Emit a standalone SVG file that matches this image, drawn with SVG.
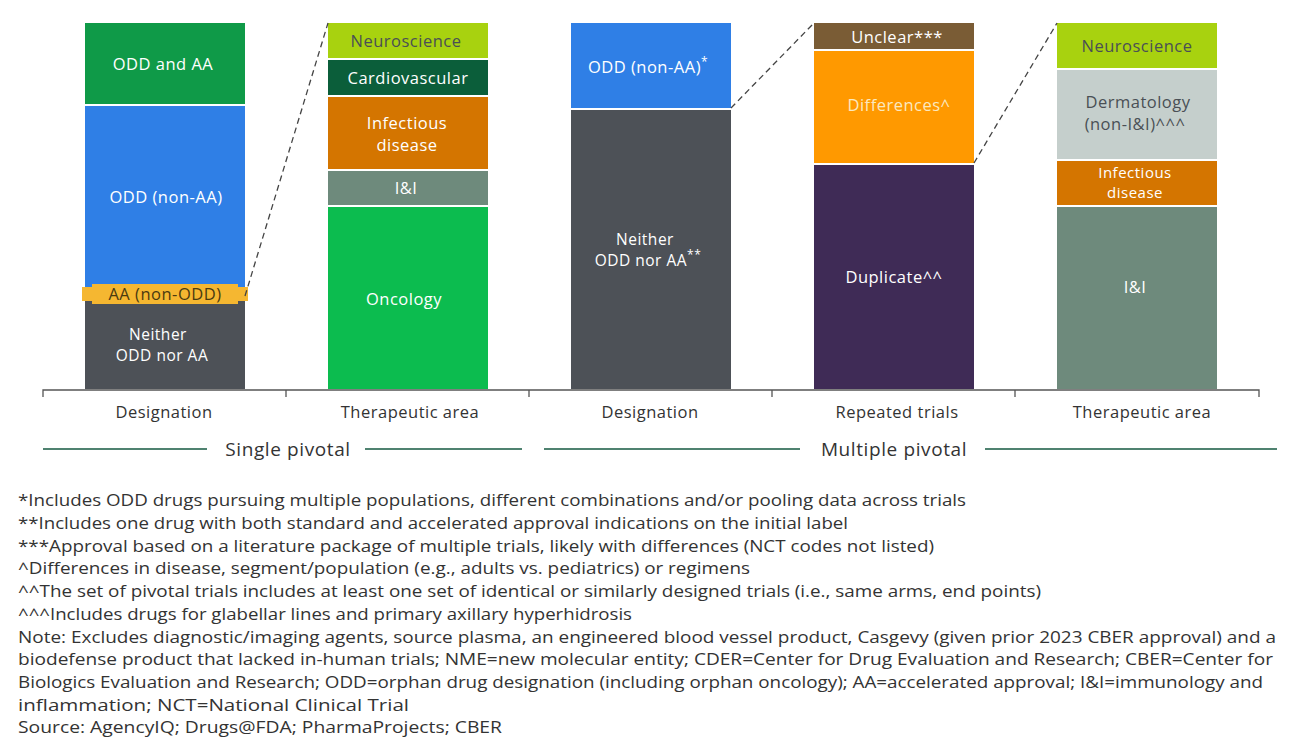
<svg xmlns="http://www.w3.org/2000/svg" width="1300" height="749" viewBox="0 0 1300 749">
<style>
text{font-family:"Open Sans","Noto Sans",sans-serif}
.l{font-size:16.5px;fill:#fff;text-anchor:middle;letter-spacing:0.5px}
.s{font-size:15.5px}
.d{fill:#4a4f55}
.ax{font-size:16.5px;fill:#333;text-anchor:middle;letter-spacing:0.5px}
.gp{font-size:19px;fill:#333;text-anchor:middle;letter-spacing:0.6px}
.fn{font-size:16px;fill:#333}
.dash{stroke:#444;stroke-width:1.3;stroke-dasharray:6 4;fill:none}
</style>
<rect width="1300" height="749" fill="#fff"/>
<g id="bar1">
<rect x="85" y="23" width="160" height="81" fill="#0f9a48"/>
<rect x="85" y="106" width="160" height="181" fill="#2f7fe6"/>
<rect x="85" y="300" width="160" height="89" fill="#4d5157"/>
<rect x="82" y="287" width="166" height="14" fill="#f5b731"/>
<rect x="92" y="284" width="146" height="20" fill="#f5b731"/>
<text class="l" x="163" y="70">ODD and AA</text>
<text class="l" x="166" y="203">ODD (non-AA)</text>
<text class="l" x="165" y="300" style="fill:#4a3b10">AA (non-ODD)</text>
<text class="l s" x="158" y="340">Neither</text>
<text class="l s" x="162" y="361">ODD nor AA</text>
</g>
<g id="bar2">
<rect x="328" y="23" width="160" height="35" fill="#a8d20f"/>
<rect x="328" y="60" width="160" height="35" fill="#0b5e3a"/>
<rect x="328" y="97" width="160" height="72" fill="#d47500"/>
<rect x="328" y="171" width="160" height="34" fill="#6e8a7c"/>
<rect x="328" y="207" width="160" height="182" fill="#0cbc4f"/>
<text class="l d" x="406" y="47">Neuroscience</text>
<text class="l" x="408" y="84">Cardiovascular</text>
<text class="l" x="407" y="129">Infectious</text>
<text class="l" x="407" y="151">disease</text>
<text class="l" x="406" y="194">I&amp;I</text>
<text class="l" x="404" y="305">Oncology</text>
</g>
<g id="bar3">
<rect x="571" y="23" width="160" height="85" fill="#2f7fe6"/>
<rect x="571" y="110" width="160" height="279" fill="#4d5157"/>
<text class="l" x="648" y="73">ODD (non-AA)<tspan font-size="12" dy="-7">*</tspan></text>
<text class="l s" x="645" y="245">Neither</text>
<text class="l s" x="648" y="266">ODD nor AA<tspan font-size="12" dy="-7">**</tspan></text>
</g>
<g id="bar4">
<rect x="814" y="23" width="160" height="26" fill="#7a5c35"/>
<rect x="814" y="51" width="160" height="112" fill="#ff9900"/>
<rect x="814" y="165" width="160" height="224" fill="#3f2b56"/>
<text class="l" x="897" y="43">Unclear***</text>
<text class="l" x="899" y="111" style="fill:#fbe9c0">Differences^</text>
<text class="l" x="894" y="283">Duplicate^^</text>
</g>
<g id="bar5">
<rect x="1057" y="23" width="160" height="45" fill="#a8d20f"/>
<rect x="1057" y="70" width="160" height="89" fill="#c5cfcc"/>
<rect x="1057" y="161" width="160" height="44" fill="#d47500"/>
<rect x="1057" y="207" width="160" height="182" fill="#6e8a7c"/>
<text class="l d" x="1137" y="52">Neuroscience</text>
<text class="l d" x="1138" y="108">Dermatology</text>
<text class="l d" x="1135" y="130">(non-I&amp;I)^^^</text>
<text class="l" x="1135" y="178" style="font-size:15px">Infectious</text>
<text class="l" x="1135" y="198" style="font-size:15px">disease</text>
<text class="l" x="1135" y="293">I&amp;I</text>
</g>
<g id="connectors">
<path class="dash" d="M245 296L328 23M731 108L814 23M974 163L1057 23"/>
<path d="M43 397V390H1259V397M286 390V397M529 390V397M772 390V397M1015 390V397" stroke="#555" stroke-width="1.3" fill="none"/>
<path d="M43 449H207M365 449H522M544 449H800M985 449H1277" stroke="#4f8270" stroke-width="2" fill="none"/>
</g>
<g id="axis-labels">
<text class="ax" x="164" y="418">Designation</text>
<text class="ax" x="410" y="418">Therapeutic area</text>
<text class="ax" x="650" y="418">Designation</text>
<text class="ax" x="897" y="418">Repeated trials</text>
<text class="ax" x="1142" y="418">Therapeutic area</text>
<text class="gp" x="288" y="456">Single pivotal</text>
<text class="gp" x="894" y="456">Multiple pivotal</text>
</g>
<g id="footnotes">
<text class="fn" x="18" y="506" textLength="948" lengthAdjust="spacingAndGlyphs">*Includes ODD drugs pursuing multiple populations, different combinations and/or pooling data across trials</text>
<text class="fn" x="18" y="529" textLength="830" lengthAdjust="spacingAndGlyphs">**Includes one drug with both standard and accelerated approval indications on the initial label</text>
<text class="fn" x="18" y="552" textLength="916" lengthAdjust="spacingAndGlyphs">***Approval based on a literature package of multiple trials, likely with differences (NCT codes not listed)</text>
<text class="fn" x="18" y="574" textLength="732" lengthAdjust="spacingAndGlyphs">^Differences in disease, segment/population (e.g., adults vs. pediatrics) or regimens</text>
<text class="fn" x="18" y="597" textLength="1023" lengthAdjust="spacingAndGlyphs">^^The set of pivotal trials includes at least one set of identical or similarly designed trials (i.e., same arms, end points)</text>
<text class="fn" x="18" y="620" textLength="614" lengthAdjust="spacingAndGlyphs">^^^Includes drugs for glabellar lines and primary axillary hyperhidrosis</text>
<text class="fn" x="18" y="643" textLength="1258" lengthAdjust="spacingAndGlyphs">Note: Excludes diagnostic/imaging agents, source plasma, an engineered blood vessel product, Casgevy (given prior 2023 CBER approval) and a</text>
<text class="fn" x="18" y="665" textLength="1255" lengthAdjust="spacingAndGlyphs">biodefense product that lacked in-human trials; NME=new molecular entity; CDER=Center for Drug Evaluation and Research; CBER=Center for</text>
<text class="fn" x="18" y="688" textLength="1245" lengthAdjust="spacingAndGlyphs">Biologics Evaluation and Research; ODD=orphan drug designation (including orphan oncology); AA=accelerated approval; I&amp;I=immunology and</text>
<text class="fn" x="18" y="711" textLength="391" lengthAdjust="spacingAndGlyphs">inflammation; NCT=National Clinical Trial</text>
<text class="fn" x="18" y="733" textLength="484" lengthAdjust="spacingAndGlyphs">Source: AgencyIQ; Drugs@FDA; PharmaProjects; CBER</text>
</g>
</svg>
